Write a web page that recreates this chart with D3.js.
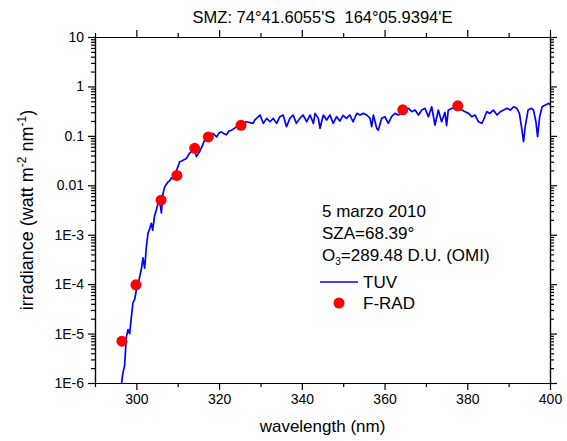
<!DOCTYPE html>
<html>
<head>
<meta charset="utf-8">
<script src="https://cdn.jsdelivr.net/npm/d3@7"></script>
<style>
    body { margin: 0; background: #fff; }
    svg text { font-family: "Liberation Sans", Arial, sans-serif; fill: #000; }
    .axis path, .axis line { stroke: #000; stroke-width: 1.2px; }
</style>
</head>
<body>
<div id="chart"></div>
<script>
// TUV model spectrum (nm, watt m-2 nm-1)
const tuvWavelength = [
    296.3, 296.44, 296.6, 296.76, 297.17, 297.58, 297.97, 298.38, 298.8, 299.18, 299.6, 300.0, 300.4, 300.8,
    301.2, 301.6, 302.01, 302.4, 302.81, 303.2, 303.63, 303.95, 304.4, 304.84, 305.2, 305.64, 306.05, 306.4,
    306.85, 307.25, 307.65, 308.1, 308.47, 308.9, 309.27, 309.9, 310.48, 311.0, 311.5, 312.1, 312.5, 312.9,
    313.5, 314.1, 314.5, 315.3, 315.9, 316.5, 317.1, 317.7, 318.5, 319.4, 320.0, 320.6, 321.2, 321.8, 322.4,
    323.0, 323.6, 324.2, 325.0, 325.8, 326.6, 328.2, 328.6, 329.9, 330.7, 331.5, 332.3, 333.1, 333.9, 334.7,
    335.5, 336.3, 337.1, 337.9, 338.7, 339.5, 340.3, 341.2, 342.0, 342.8, 343.2, 344.0, 344.4, 345.2, 346.0,
    346.8, 347.6, 348.4, 349.2, 350.0, 350.8, 351.6, 352.4, 353.3, 354.1, 354.9, 355.7, 356.5, 356.9, 357.3,
    358.1, 358.5, 359.3, 360.1, 360.9, 361.7, 362.5, 363.3, 364.2, 365.0, 365.8, 366.6, 367.4, 368.2, 369.0,
    369.8, 370.6, 371.4, 372.2, 373.0, 373.8, 374.6, 375.0, 375.4, 376.3, 377.5, 378.7, 379.5, 380.3, 381.1,
    381.9, 382.7, 383.5, 383.9, 384.7, 385.5, 386.3, 387.2, 388.0, 388.8, 389.6, 390.4, 391.2, 392.0, 392.6,
    393.1, 393.6, 394.0, 394.7, 395.5, 396.0, 396.6, 397.0, 397.5, 398.1, 398.9, 399.7, 400.0
]
const tuvIrradiance = [
    8e-7, 1.0e-6, 1.3e-6, 1.6e-6, 2.3e-6, 8.5e-6, 1.2e-5, 1.0e-5, 2.2e-5, 4.2e-5, 5.0e-5, 7.6e-5, 9.5e-5, 1.4e-4,
    2.0e-4, 3.4e-4, 2.1e-4, 5.5e-4, 1.07e-3, 1.3e-3, 1.7e-3, 1.23e-3, 2.4e-3, 3.2e-3, 4.2e-3, 4.7e-3, 2.75e-3, 6.5e-3,
    9.3e-3, 0.0105, 0.0117, 0.0125, 0.0141, 0.0135, 0.0162, 0.022, 0.030, 0.031, 0.033, 0.035, 0.040, 0.045,
    0.048, 0.051, 0.038, 0.048, 0.062, 0.081, 0.095, 0.105, 0.112, 0.095, 0.115, 0.12, 0.11, 0.105, 0.125,
    0.13, 0.14, 0.153, 0.17, 0.18, 0.193, 0.179, 0.209, 0.264, 0.179, 0.226, 0.193, 0.226, 0.179, 0.244,
    0.264, 0.153, 0.226, 0.264, 0.179, 0.226, 0.264, 0.193, 0.264, 0.179, 0.285, 0.226, 0.142, 0.264, 0.209,
    0.264, 0.179, 0.244, 0.2, 0.26, 0.226, 0.264, 0.193, 0.285, 0.264, 0.285, 0.264, 0.226, 0.153, 0.264,
    0.142, 0.131, 0.226, 0.244, 0.179, 0.244, 0.285, 0.264, 0.285, 0.333, 0.36, 0.308, 0.333, 0.264, 0.333,
    0.36, 0.244, 0.388, 0.166, 0.333, 0.193, 0.30, 0.16, 0.33, 0.36, 0.388, 0.333, 0.308, 0.285, 0.244,
    0.264, 0.193, 0.179, 0.209, 0.308, 0.285, 0.333, 0.264, 0.308, 0.333, 0.36, 0.333, 0.388, 0.36, 0.285,
    0.153, 0.076, 0.153, 0.333, 0.36, 0.333, 0.193, 0.096, 0.244, 0.388, 0.42, 0.455, 0.42
]

// F-RAD measurements
const fradWavelength = [296.5, 299.9, 305.96, 309.8, 314.1, 317.4, 325.3, 364.4, 377.7]
const fradIrradiance = [7.0e-6, 9.7e-5, 5.0e-3, 0.0158, 0.056, 0.095, 0.163, 0.337, 0.406]

const xMajor = [300, 320, 340, 360, 380, 400]
const xMinor = [290, 310, 330, 350, 370, 390]
const yMajor = [1e-6, 1e-5, 1e-4, 1e-3, 0.01, 0.1, 1, 10]
const yLabels = ["1E-6", "1E-5", "1E-4", "1E-3", "0.01", "0.1", "1", "10"]

const width = 567, height = 441
const mLeft = 95, mRight = 550, mTop = 37, mBottom = 383

const svg = d3.select("#chart")
    .append("svg")
        .attr("width", width)
        .attr("height", height)

const x = d3.scaleLinear().domain([290, 400]).range([mLeft, mRight])
const y = d3.scaleLog().domain([1e-6, 10]).range([mBottom, mTop])

const yMinor = []
for (let i = 0; i < yMajor.length - 1; i++) {
    for (let k = 2; k <= 9; k++) yMinor.push(yMajor[i] * k)
}

function styleAxis(g) {
    g.attr("class", "axis")
    g.selectAll("text").style("font-size", "14px").style("font-family", '"Liberation Sans", Arial, sans-serif')
}

// bottom
svg.append("g").attr("transform", "translate(0," + mBottom + ")")
    .call(d3.axisBottom(x).tickValues(xMajor).tickFormat(d3.format("d")).tickSize(7).tickSizeOuter(0).tickPadding(4))
    .call(styleAxis)
svg.append("g").attr("transform", "translate(0," + mBottom + ")")
    .call(d3.axisBottom(x).tickValues(xMinor).tickFormat("").tickSize(4).tickSizeOuter(0))
    .call(styleAxis)
// top
svg.append("g").attr("transform", "translate(0," + mTop + ")")
    .call(d3.axisTop(x).tickValues(xMajor).tickFormat("").tickSize(7).tickSizeOuter(0))
    .call(styleAxis)
svg.append("g").attr("transform", "translate(0," + mTop + ")")
    .call(d3.axisTop(x).tickValues(xMinor).tickFormat("").tickSize(4).tickSizeOuter(0))
    .call(styleAxis)
// left
svg.append("g").attr("transform", "translate(" + mLeft + ",0)")
    .call(d3.axisLeft(y).tickValues(yMajor).tickFormat((d, i) => yLabels[i]).tickSize(7).tickSizeOuter(0).tickPadding(4))
    .call(styleAxis)
svg.append("g").attr("transform", "translate(" + mLeft + ",0)")
    .call(d3.axisLeft(y).tickValues(yMinor).tickFormat("").tickSize(4).tickSizeOuter(0))
    .call(styleAxis)
// right
svg.append("g").attr("transform", "translate(" + mRight + ",0)")
    .call(d3.axisRight(y).tickValues(yMajor).tickFormat("").tickSize(7).tickSizeOuter(0))
    .call(styleAxis)
svg.append("g").attr("transform", "translate(" + mRight + ",0)")
    .call(d3.axisRight(y).tickValues(yMinor).tickFormat("").tickSize(4).tickSizeOuter(0))
    .call(styleAxis)

svg.append("clipPath").attr("id", "plot-clip")
    .append("rect")
        .attr("x", mLeft).attr("y", mTop)
        .attr("width", mRight - mLeft).attr("height", mBottom - mTop)

const tuv = tuvWavelength.map((w, i) => ({w: w, v: tuvIrradiance[i]}))
const line = d3.line().x(d => x(d.w)).y(d => y(d.v))

svg.append("path")
    .datum(tuv)
    .attr("clip-path", "url(#plot-clip)")
    .attr("d", line)
    .attr("fill", "none")
    .attr("stroke", "#0000ff")
    .attr("stroke-width", 1.7)
    .attr("stroke-linejoin", "round")

svg.selectAll(".frad")
    .data(fradWavelength.map((w, i) => ({w: w, v: fradIrradiance[i]})))
    .enter()
    .append("circle")
        .attr("class", "frad")
        .attr("cx", d => x(d.w))
        .attr("cy", d => y(d.v))
        .attr("r", 5.5)
        .attr("fill", "#ff0000")

// title and axis labels
svg.append("text")
    .attr("x", (mLeft + mRight) / 2).attr("y", 23)
    .attr("text-anchor", "middle")
    .style("font-size", "16.5px")
    .text("SMZ: 74°41.6055'S\u00a0\u00a0164°05.9394'E")

svg.append("text")
    .attr("x", (mLeft + mRight) / 2).attr("y", 432)
    .attr("text-anchor", "middle")
    .style("font-size", "17px")
    .text("wavelength (nm)")

const ylab = svg.append("text")
    .attr("transform", "translate(33," + (mTop + mBottom) / 2 + ") rotate(-90)")
    .attr("text-anchor", "middle")
    .style("font-size", "18px")
ylab.append("tspan").text("irradiance (watt m")
ylab.append("tspan").attr("dy", -7).style("font-size", "12px").text("-2")
ylab.append("tspan").attr("dy", 7).text(" nm")
ylab.append("tspan").attr("dy", -7).style("font-size", "12px").text("-1")
ylab.append("tspan").attr("dy", 7).text(")")

// annotation
const notes = svg.append("g").style("font-size", "17px")
notes.append("text").attr("x", 322).attr("y", 217).text("5 marzo 2010")
notes.append("text").attr("x", 322).attr("y", 239).text("SZA=68.39°")
const o3 = notes.append("text").attr("x", 322).attr("y", 261)
o3.append("tspan").text("O")
o3.append("tspan").attr("dy", 4).style("font-size", "10px").text("3")
o3.append("tspan").attr("dy", -4).text("=289.48 D.U. (OMI)")

// legend
svg.append("line")
    .attr("x1", 320).attr("x2", 358).attr("y1", 282).attr("y2", 282)
    .attr("stroke", "#0000ff").attr("stroke-width", 1.4)
svg.append("text").attr("x", 363).attr("y", 288).style("font-size", "17px").text("TUV")
svg.append("circle").attr("cx", 339).attr("cy", 303).attr("r", 5.5).attr("fill", "#ff0000")
svg.append("text").attr("x", 363).attr("y", 309).style("font-size", "17px").text("F-RAD")
</script>
</body>
</html>
